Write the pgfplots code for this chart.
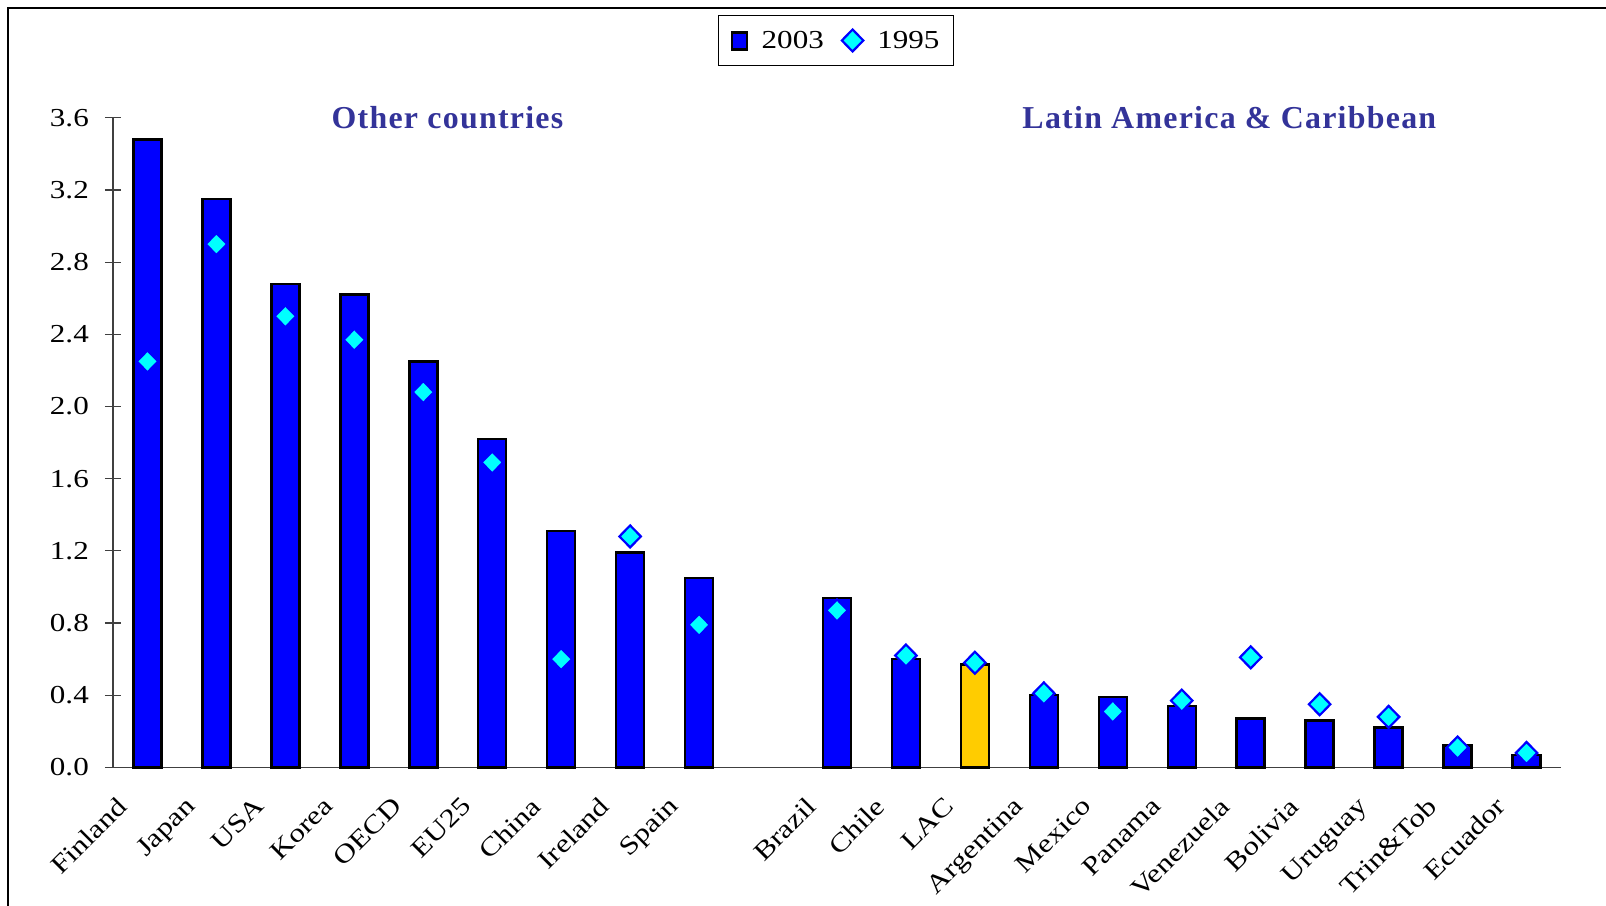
\documentclass[border=0pt]{standalone}
\usepackage{fontspec}
\setmainfont{Liberation Serif}[FakeStretch=1.2]
\newfontfamily\titlefont{Liberation Serif}[LetterSpace=4]
\usepackage{pgfplots}
\pgfplotsset{compat=1.18}
\definecolor{barblue}{RGB}{0,0,255}
\definecolor{diacyan}{RGB}{0,255,255}
\definecolor{lacgold}{RGB}{255,204,0}
\definecolor{titleblue}{RGB}{51,51,153}
\begin{document}
\begin{tikzpicture}
\useasboundingbox (0,0) rectangle (1606bp,906bp);
\draw[line width=1.5bp] (8bp,0) -- (8bp,898bp) -- (1606bp,898bp);
\begin{axis}[
  scale only axis,
  width=1448bp, height=649.6bp,
  at={(113bp,138.6bp)}, anchor=south west,
  xmin=-0.5, xmax=20.5, ymin=0, ymax=3.6,
  axis x line=bottom, axis y line=left,
  axis line style={-, line width=1.2bp, black!75},
  tick align=center,
  major tick length=16bp, minor tick length=16bp,
  tick style={line width=1.2bp, black!75},
  ytick={0,0.4,...,3.6},
  xtick={0,...,20},
  xtick style={draw=none},
  minor xtick={-0.5,0.5,...,20.5},
  xticklabels={Finland,Japan,USA,Korea,OECD,EU25,China,Ireland,Spain,{},Brazil,Chile,LAC,Argentina,Mexico,Panama,Venezuela,Bolivia,Uruguay,Trin\&Tob,Ecuador},
  xticklabel style={font=\fontsize{26}{30}\selectfont, inner sep=0pt, anchor=north east, xshift=-32bp, yshift=-20bp, rotate=45},
  yticklabel style={font=\fontsize{26}{30}\selectfont, inner sep=0pt, xshift=-16bp},
  /pgf/number format/.cd, fixed, fixed zerofill, precision=1, assume math mode=true,
  /pgfplots/.cd,
  clip=false,
  legend columns=2,
  legend style={at={(0.4993,1.119)}, anchor=center, draw=black, line width=1bp,
    font=\fontsize{26}{30}\selectfont, inner xsep=12bp, inner ysep=14bp,
    /tikz/every odd column/.append style={column sep=12bp},
    /tikz/every even column/.append style={column sep=16bp}},
]
\addplot[ybar, bar width=28bp, bar shift=0pt, fill=barblue, draw=black, line width=2.5bp,
  legend image code/.code={\draw[fill=barblue, draw=black, line width=2.2bp] (0bp,-9bp) rectangle (15bp,8bp);}]
coordinates {
(0,3.48) (1,3.15) (2,2.68) (3,2.62) (4,2.25) (5,1.82) (6,1.31) (7,1.19) (8,1.05)
(10,0.94) (11,0.60) (13,0.40) (14,0.39) (15,0.34) (16,0.27) (17,0.26) (18,0.22) (19,0.12) (20,0.07)
};
\addlegendentry{2003}
\addplot[ybar, bar width=28bp, bar shift=0pt, fill=lacgold, draw=black, line width=2.5bp, forget plot]
coordinates {(12,0.57)};
\addplot[only marks, mark=diamond*, mark size=11bp, mark options={fill=diacyan, draw=barblue, line width=2.2bp, xscale=1.3}]
coordinates {
(0,2.25) (1,2.90) (2,2.50) (3,2.37) (4,2.08) (5,1.69) (6,0.60) (7,1.28) (8,0.79)
(10,0.87) (11,0.62) (12,0.58) (13,0.41) (14,0.31) (15,0.37) (16,0.61) (17,0.35) (18,0.28) (19,0.11) (20,0.08)
};
\addlegendentry{1995}
\node[font=\titlefont\bfseries\fontsize{32}{36}\selectfont, text=titleblue, anchor=center] at (axis cs:4.35,3.6) {Other countries};
\node[font=\titlefont\bfseries\fontsize{32}{36}\selectfont, text=titleblue, anchor=center] at (axis cs:15.69,3.6) {Latin America \& Caribbean};
\end{axis}
\end{tikzpicture}
\end{document}
